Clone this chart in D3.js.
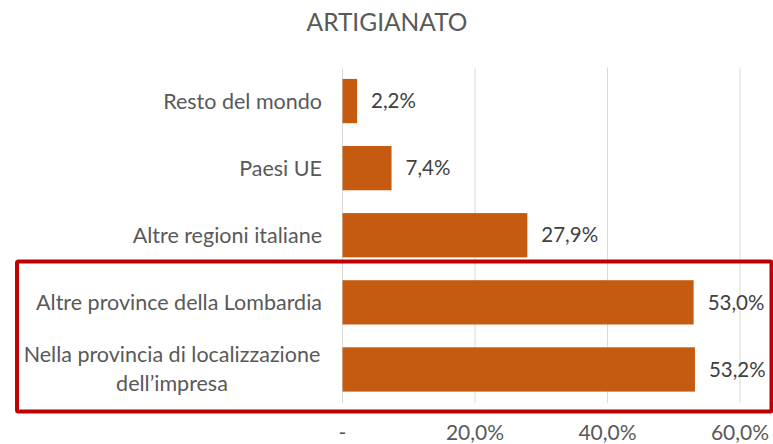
<!DOCTYPE html>
<html>
<meta charset="utf-8">
<style>
 body { margin: 0; background: #fff; }
 text { font-family: Lato, "Open Sans", sans-serif; }
 .cat_text { font-size: 21.5px; fill: #595959; }
 .val_text { font-size: 20.5px; fill: #404040; }
 .tick_text { font-size: 21px; fill: #595959; }
 #title_text { font-size: 24.5px; fill: #595959; }
</style>
<body>
  <script src="https://cdn.jsdelivr.net/npm/d3@7"></script>
  <script>

var categories = ["Resto del mondo", "Paesi UE", "Altre regioni italiane",
  "Altre province della Lombardia", "Nella provincia di localizzazione dell\u2019impresa"];
var values = [2.2, 7.4, 27.9, 53.0, 53.2];
var tickValues = [0, 20, 40, 60];
var tickLabels = ["-", "20,0%", "40,0%", "60,0%"];

var width = 773
var height = 444

var svg = d3.select("body")
  .append("svg")
  .attr("width", width)
  .attr("height", height);

var x = d3.scaleLinear().domain([0, 60]).range([342.5, 740]);
var y = d3.scaleBand().domain(categories).range([67.5, 403]).paddingInner(0.34).paddingOuter(0.17);

// gridlines
svg.selectAll(".grid")
  .data(tickValues)
  .enter()
  .append("line")
    .attr("x1", function (d) { return x(d); })
    .attr("x2", function (d) { return x(d); })
    .attr("y1", 67.5)
    .attr("y2", 403)
    .attr("stroke", "#D9D9D9")
    .attr("stroke-width", 1);

// bars
svg.selectAll(".bar")
  .data(values)
  .enter()
  .append("rect")
    .attr("x", x(0))
    .attr("y", function (d, i) { return y(categories[i]); })
    .attr("width", function (d) { return x(d) - x(0); })
    .attr("height", y.bandwidth())
    .attr("fill", "#C55A11");

// value labels
svg.selectAll(".val_text")
  .data(values)
  .enter()
  .append("text")
    .attr("class", "val_text")
    .attr("x", function (d) { return x(d) + 14; })
    .attr("y", function (d, i) { return y(categories[i]) + y.bandwidth() / 2; })
    .attr("dy", "0.35em")
    .text(function (d) { return d.toFixed(1).replace(".", ",") + "%"; });

// category labels, wrapped when too long (centered like Excel)
var labelRight = 322, maxW = 312;
categories.forEach(function (c, i) {
  var cy = y(c) + y.bandwidth() / 2;
  var t = svg.append("text").attr("class", "cat_text").text(c);
  if (t.node().getComputedTextLength() <= maxW) {
    t.attr("x", labelRight).attr("y", cy).attr("dy", "0.35em").attr("text-anchor", "end");
    return;
  }
  var words = c.split(" "), lines = [], line = [];
  t.text("");
  words.forEach(function (w) {
    line.push(w);
    t.text(line.join(" "));
    if (t.node().getComputedTextLength() > maxW && line.length > 1) {
      line.pop();
      lines.push(line.join(" "));
      line = [w];
    }
  });
  lines.push(line.join(" "));
  t.text("");
  var lh = 29;
  var cx = labelRight - maxW / 2 + 6;
  lines.forEach(function (l, j) {
    t.append("tspan")
      .attr("x", cx)
      .attr("y", cy + (j - (lines.length - 1) / 2) * lh)
      .attr("dy", "0.35em")
      .attr("text-anchor", "middle")
      .text(l);
  });
});

// x tick labels
svg.selectAll(".tick_text")
  .data(tickValues)
  .enter()
  .append("text")
    .attr("class", "tick_text")
    .attr("text-anchor", "middle")
    .attr("x", function (d) { return x(d); })
    .attr("y", 440)
    .text(function (d, i) { return tickLabels[i]; });

// title
svg.append("text")
  .attr("id", "title_text")
  .attr("text-anchor", "middle")
  .attr("x", 387)
  .attr("y", 31)
  .text("ARTIGIANATO");

// red highlight box
svg.append("rect")
  .attr("x", 17)
  .attr("y", 261.5)
  .attr("width", 754.5)
  .attr("height", 150)
  .attr("fill", "none")
  .attr("stroke", "#C00000")
  .attr("stroke-width", 4)
  .attr("rx", 1.5);

  </script>
</body>
</html>
